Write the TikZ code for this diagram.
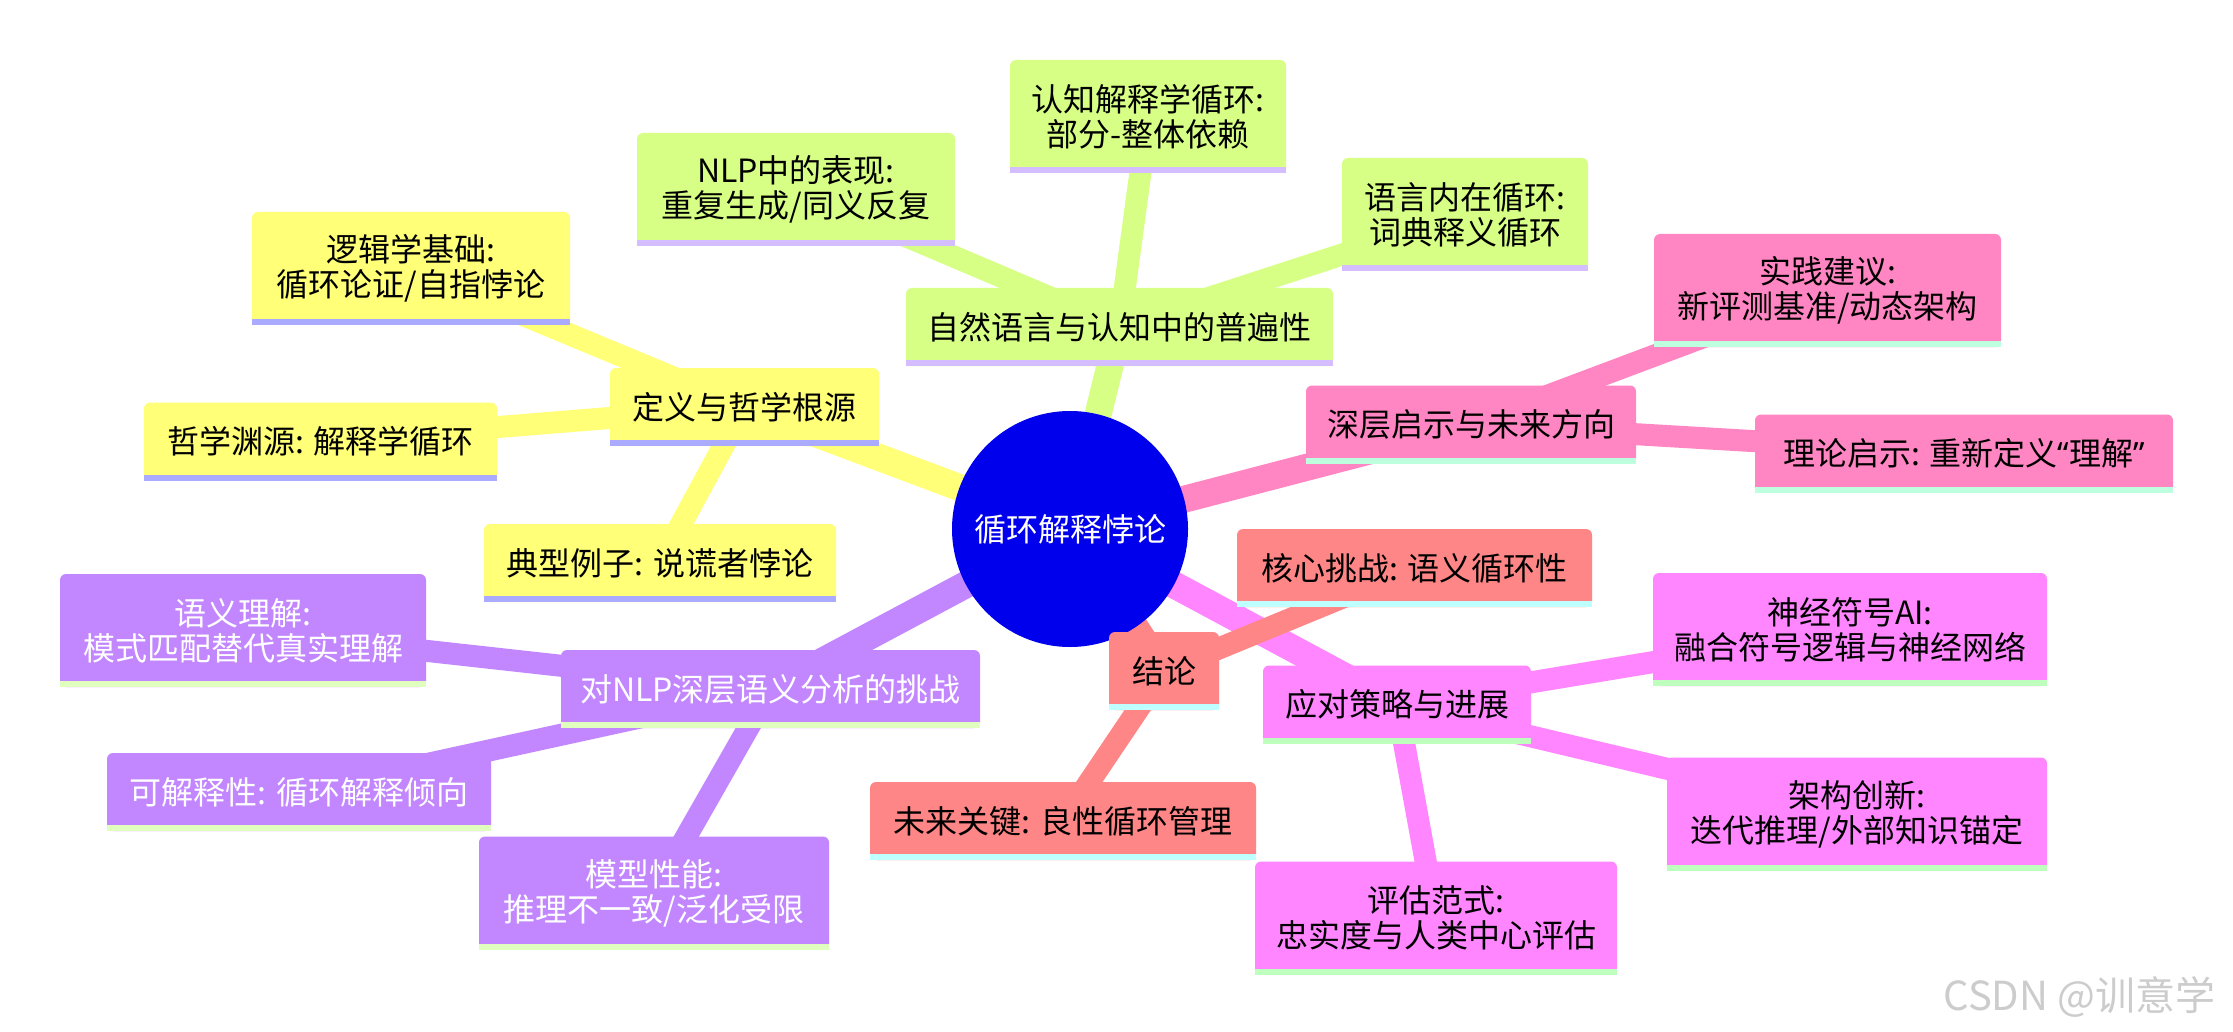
\documentclass[tikz,border=0pt]{standalone}
\usepackage{fontspec}
\usepackage{tikz}
\usetikzlibrary{
    positioning,
    backgrounds
}
\newfontfamily\cjk{Noto Sans CJK SC}
\newfontfamily\latin{Noto Sans}
\definecolor{MapRoot}{RGB}{0,0,236}
\definecolor{MapYellow}{RGB}{255,255,120}
\definecolor{MapYellowLine}{RGB}{170,170,255}
\definecolor{MapGreen}{RGB}{215,255,134}
\definecolor{MapGreenLine}{RGB}{212,190,255}
\definecolor{MapPurple}{RGB}{194,134,255}
\definecolor{MapPurpleLine}{RGB}{224,255,190}
\definecolor{MapMagenta}{RGB}{255,134,255}
\definecolor{MapMagentaLine}{RGB}{190,255,190}
\definecolor{MapPink}{RGB}{255,134,194}
\definecolor{MapPinkLine}{RGB}{190,255,224}
\definecolor{MapSalmon}{RGB}{255,134,134}
\definecolor{MapSalmonLine}{RGB}{190,255,255}

\tikzset{
    mapbox/.style 2 args={
        rectangle,
        inner sep=0pt,
        align=center,
        font=\cjk\fontsize{32}{35}\selectfont,
        path picture={
            \fill[#1, rounded corners=6pt]
                (path picture bounding box.south west)
                rectangle (path picture bounding box.north east);
            \fill[#2]
                (path picture bounding box.south west)
                rectangle ([yshift=6pt]path picture bounding box.south east);
        }
    },
    oneline/.style={minimum height=78pt},
    twoline/.style={minimum height=113pt},
    secY/.style={mapbox={MapYellow}{MapYellowLine}},
    secG/.style={mapbox={MapGreen}{MapGreenLine}},
    secP/.style={mapbox={MapPurple}{MapPurpleLine}, text=white},
    secM/.style={mapbox={MapMagenta}{MapMagentaLine}},
    secK/.style={mapbox={MapPink}{MapPinkLine}},
    secS/.style={mapbox={MapSalmon}{MapSalmonLine}},
    linkA/.style={line width=27pt},
    linkB/.style={line width=22pt}
}

\begin{document}
\begin{tikzpicture}[
    x=1pt,
    y=-1pt
]

\useasboundingbox (0,0) rectangle (2233,1032);

% Root
\node[circle, fill=MapRoot, minimum size=236pt, inner sep=0pt,
      text=white, font=\cjk\fontsize{32}{35}\selectfont]
    (root) at (1070,529) {循环解释悖论};

% Definition branch
\node[secY, oneline, minimum width=269pt]
    (def) at (744.5,407) {定义与哲学根源};
\node[secY, twoline, minimum width=318pt]
    (logic) at (411,268.5) {逻辑学基础:\\循环论证/自指悖论};
\node[secY, oneline, minimum width=353pt]
    (phil) at (320.5,441.5) {哲学渊源: 解释学循环};
\node[secY, oneline, minimum width=352pt]
    (liar) at (660,563) {典型例子: 说谎者悖论};

% Language branch
\node[secG, oneline, minimum width=427pt]
    (nat) at (1119.5,327) {自然语言与认知中的普遍性};
\node[secG, twoline, minimum width=318pt]
    (nlp) at (796,189.5) {NLP中的表现:\\重复生成/同义反复};
\node[secG, twoline, minimum width=276pt]
    (cog) at (1148,116.5) {认知解释学循环:\\部分-整体依赖};
\node[secG, twoline, minimum width=246pt]
    (lang) at (1465,214.5) {语言内在循环:\\词典释义循环};

% Challenge branch
\node[secP, oneline, minimum width=419pt]
    (chal) at (770.5,689) {对NLP深层语义分析的挑战};
\node[secP, twoline, minimum width=366pt]
    (sem) at (243,630.5) {语义理解:\\模式匹配替代真实理解};
\node[secP, oneline, minimum width=384pt]
    (expl) at (299,792) {可解释性: 循环解释倾向};
\node[secP, twoline, minimum width=350pt]
    (perf) at (654,893) {模型性能:\\推理不一致/泛化受限};

% Strategy branch
\node[secM, oneline, minimum width=268pt]
    (strat) at (1397,704.5) {应对策略与进展};
\node[secM, twoline, minimum width=394pt]
    (neuro) at (1850,629.5) {神经符号AI:\\融合符号逻辑与神经网络};
\node[secM, twoline, minimum width=380pt]
    (arch) at (1857,814) {架构创新:\\迭代推理/外部知识锚定};
\node[secM, twoline, minimum width=362pt]
    (eval) at (1436,918) {评估范式:\\忠实度与人类中心评估};

% Outlook branch
\node[secK, oneline, minimum width=330pt]
    (deep) at (1471,424.5) {深层启示与未来方向};
\node[secK, twoline, minimum width=347pt]
    (prac) at (1827.5,290.5) {实践建议:\\新评测基准/动态架构};
\node[secK, oneline, minimum width=418pt]
    (theo) at (1964,453.5) {理论启示: 重新定义{\latin “}理解{\latin ”}};

% Conclusion branch
\node[secS, oneline, minimum width=110pt]
    (conc) at (1164,671) {结论};
\node[secS, oneline, minimum width=355pt]
    (core) at (1414.5,568) {核心挑战: 语义循环性};
\node[secS, oneline, minimum width=386pt]
    (fut) at (1063,821) {未来关键: 良性循环管理};

% Watermark
\node[anchor=west, text=gray!40, font=\cjk\fontsize{40}{44}\selectfont]
    (mark) at (1940,997) {CSDN @训意学};

\begin{scope}[on background layer]
% Page
\fill[white] (0,0) rectangle (2233,1032);

% Links from root
\draw[linkA, MapYellow] (root.center) -- (def.center);
\draw[linkA, MapGreen] (root.center) -- (nat.center);
\draw[linkA, MapPurple] (root.center) -- (chal.center);
\draw[linkA, MapMagenta] (root.center) -- (strat.center);
\draw[linkA, MapPink] (root.center) -- (deep.center);
\draw[linkA, MapSalmon] (root.center) -- (conc.center);

% Links to leaves
\foreach \leaf in {logic, phil, liar}
    \draw[linkB, MapYellow] (def.center) -- (\leaf.center);
\foreach \leaf in {nlp, cog, lang}
    \draw[linkB, MapGreen] (nat.center) -- (\leaf.center);
\foreach \leaf in {sem, expl, perf}
    \draw[linkB, MapPurple] (chal.center) -- (\leaf.center);
\foreach \leaf in {neuro, arch, eval}
    \draw[linkB, MapMagenta] (strat.center) -- (\leaf.center);
\foreach \leaf in {prac, theo}
    \draw[linkB, MapPink] (deep.center) -- (\leaf.center);
\foreach \leaf in {core, fut}
    \draw[linkB, MapSalmon] (conc.center) -- (\leaf.center);
\end{scope}

\end{tikzpicture}
\end{document}
